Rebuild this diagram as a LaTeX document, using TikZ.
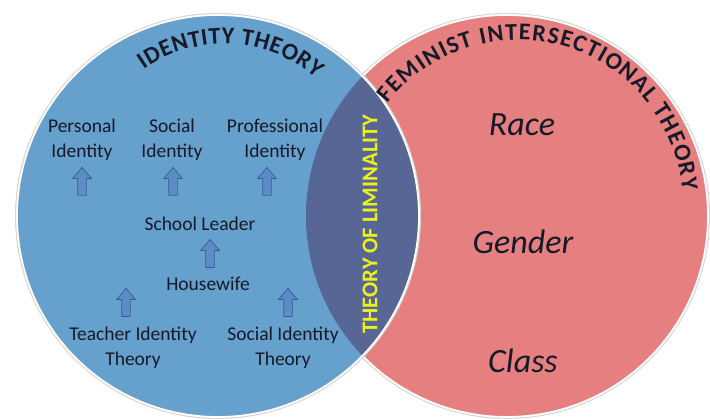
\documentclass[tikz,border=0pt]{standalone}
\usepackage{fontspec}
\setmainfont{Carlito}
\usetikzlibrary{positioning,calc,shapes.arrows,decorations.text}

\definecolor{idblue}{RGB}{102,160,204}
\definecolor{fempink}{RGB}{230,128,128}
\definecolor{limblue}{RGB}{88,102,150}
\definecolor{limyellow}{RGB}{236,240,30}
\definecolor{arrowfill}{RGB}{92,140,200}
\definecolor{arrowline}{RGB}{56,93,138}
\definecolor{ink}{RGB}{22,26,40}

\newcommand{\arcfont}{\bfseries\fontsize{24}{24}\selectfont}

\tikzset{
  lbl/.style={align=center, text=ink, inner sep=0pt, font=\fontsize{19.5}{25}\selectfont},
  facet/.style={text=ink, inner sep=0pt, font=\fontsize{34}{34}\selectfont\itshape},
  uparrow/.style={single arrow, rotate=90, draw=arrowline, fill=arrowfill, line width=0.7pt,
    minimum height=28pt, minimum width=18pt, inner xsep=0pt, inner ysep=4pt,
    single arrow head extend=5pt, single arrow tip angle=80},
  shadering/.style={draw=black!16, line width=4pt},
  whiterim/.style={draw=white, line width=1.8pt},
}

\begin{document}
\begin{tikzpicture}[x=1pt,y=1pt]
  \useasboundingbox (0,0) rectangle (710,419);

  \coordinate (idc) at (218,203);
  \coordinate (fmc) at (507,203);

  % feminist circle
  \draw[shadering] (fmc) circle (201);
  \fill[fempink] (fmc) circle (201);
  \draw[whiterim] (fmc) circle (201);
  % identity circle
  \draw[shadering] (idc) circle (201);
  \fill[idblue] (idc) circle (201);
  % overlap
  \begin{scope}
    \clip (idc) circle (201);
    \fill[limblue] (fmc) circle (201);
  \end{scope}
  \draw[whiterim] (idc) circle (201);

  % titles on the rims
  \path[decorate, decoration={text along path, text align={fit to path},
      text={|\arcfont\color{ink}|IDENTITY THEORY}}]
    ($(224,235)+(125:140)$) arc[start angle=125, end angle=49, radius=140];
  \path[decorate, decoration={text along path, text align={fit to path},
      text={|\arcfont\color{ink}|FEMINIST INTERSECTIONAL THEORY}}]
    ($(518,214)+(142:165)$) arc[start angle=142, end angle=5, radius=165];

  % identity side
  \node[lbl] (pers) at (82,279) {Personal\\Identity};
  \node[lbl] (soci) at (172,279) {Social\\Identity};
  \node[lbl] (prof) at (275,279) {Professional\\Identity};

  \node[uparrow] (up1) at (82,235) {};
  \node[uparrow] (up2) at (173,235) {};
  \node[uparrow] (up3) at (267,235) {};

  \node[lbl] (lead) at (200,195) {School Leader};
  \node[uparrow] (up4) at (210,163) {};
  \node[lbl] (house) at (208,135) {Housewife};

  \node[uparrow] (up5) at (126,114) {};
  \node[uparrow] (up6) at (288,114) {};

  \node[lbl] (teach) at (133,71) {Teacher Identity\\Theory};
  \node[lbl] (sith) at (283,71) {Social Identity\\Theory};

  % overlap label
  \node[rotate=90, text=limyellow, inner sep=0pt, font=\bfseries\fontsize{22.5}{22.5}\selectfont]
    (limin) at (370,195) {THEORY OF LIMINALITY};

  % feminist side
  \node[facet] (race) at (522,294) {Race};
  \node[facet] (gend) at (523,177) {Gender};
  \node[facet] (clas) at (523,58) {Class};
\end{tikzpicture}
\end{document}
